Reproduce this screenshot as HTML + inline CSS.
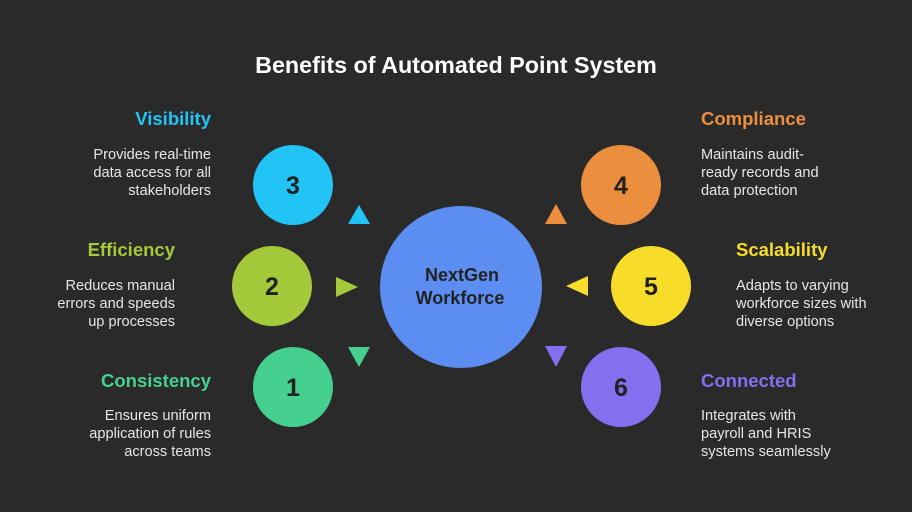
<!DOCTYPE html>
<html><head><meta charset="utf-8"><style>
html,body{margin:0;padding:0;background:#2a2a2a;}
body{width:912px;height:512px;overflow:hidden;position:relative;font-family:"Liberation Sans",sans-serif;}
.t{position:absolute;font-weight:bold;font-size:18.5px;white-space:nowrap;line-height:20px;}
.d{position:absolute;color:#e6e6e6;font-size:14.6px;line-height:18px;white-space:nowrap;}
.r{text-align:right;}
</style></head><body>
<svg width="912" height="512" style="position:absolute;left:0;top:0">
<text x="456" y="73" text-anchor="middle" fill="#fff" font-family="Liberation Sans" font-weight="bold" font-size="23.3">Benefits of Automated Point System</text>
<circle cx="461" cy="287" r="81" fill="#5b8ef0"/>
<text x="462" y="281" text-anchor="middle" fill="#222" font-family="Liberation Sans" font-size="18" font-weight="bold">NextGen</text>
<text x="460" y="304" text-anchor="middle" fill="#222" font-family="Liberation Sans" font-size="18" font-weight="bold">Workforce</text>
<g font-family="Liberation Sans" font-size="25" font-weight="bold" fill="#222" text-anchor="middle">
<circle cx="293" cy="185" r="40" fill="#22c3f5"/><text x="293" y="194">3</text>
<circle cx="272" cy="286" r="40" fill="#a4c93a"/><text x="272" y="295">2</text>
<circle cx="293" cy="387" r="40" fill="#45d08f"/><text x="293" y="396">1</text>
<circle cx="621" cy="185" r="40" fill="#eb8f3f"/><text x="621" y="194">4</text>
<circle cx="651" cy="286" r="40" fill="#f8dc2a"/><text x="651" y="295">5</text>
<circle cx="621" cy="387" r="40" fill="#8470ee"/><text x="621" y="396">6</text>
</g>
<polygon points="348,224 370,224 359,205" fill="#22c3f5"/>
<polygon points="336,277 336,297 358,287" fill="#a4c93a"/>
<polygon points="348,347 370,347 359,367" fill="#45d08f"/>
<polygon points="545,224 567,224 556,204" fill="#eb8f3f"/>
<polygon points="588,276 588,296 566,286" fill="#f8dc2a"/>
<polygon points="545,346 567,346 556,367" fill="#8470ee"/>
</svg>
<div class="t r" style="right:701px;top:109px;color:#22c3f5">Visibility</div>
<div class="d r" style="right:701px;top:146px">Provides real-time<br>data access for all<br>stakeholders</div>
<div class="t r" style="right:737px;top:240px;color:#a4c93a">Efficiency</div>
<div class="d r" style="right:737px;top:277px">Reduces manual<br>errors and speeds<br>up processes</div>
<div class="t r" style="right:701px;top:371px;color:#45d08f">Consistency</div>
<div class="d r" style="right:701px;top:407px">Ensures uniform<br>application of rules<br>across teams</div>
<div class="t" style="left:701px;top:109px;color:#eb8f3f">Compliance</div>
<div class="d" style="left:701px;top:146px">Maintains audit-<br>ready records and<br>data protection</div>
<div class="t" style="left:736px;top:240px;color:#f8dc2a">Scalability</div>
<div class="d" style="left:736px;top:277px">Adapts to varying<br>workforce sizes with<br>diverse options</div>
<div class="t" style="left:701px;top:371px;color:#8470ee">Connected</div>
<div class="d" style="left:701px;top:407px">Integrates with<br>payroll and HRIS<br>systems seamlessly</div>
</body></html>
